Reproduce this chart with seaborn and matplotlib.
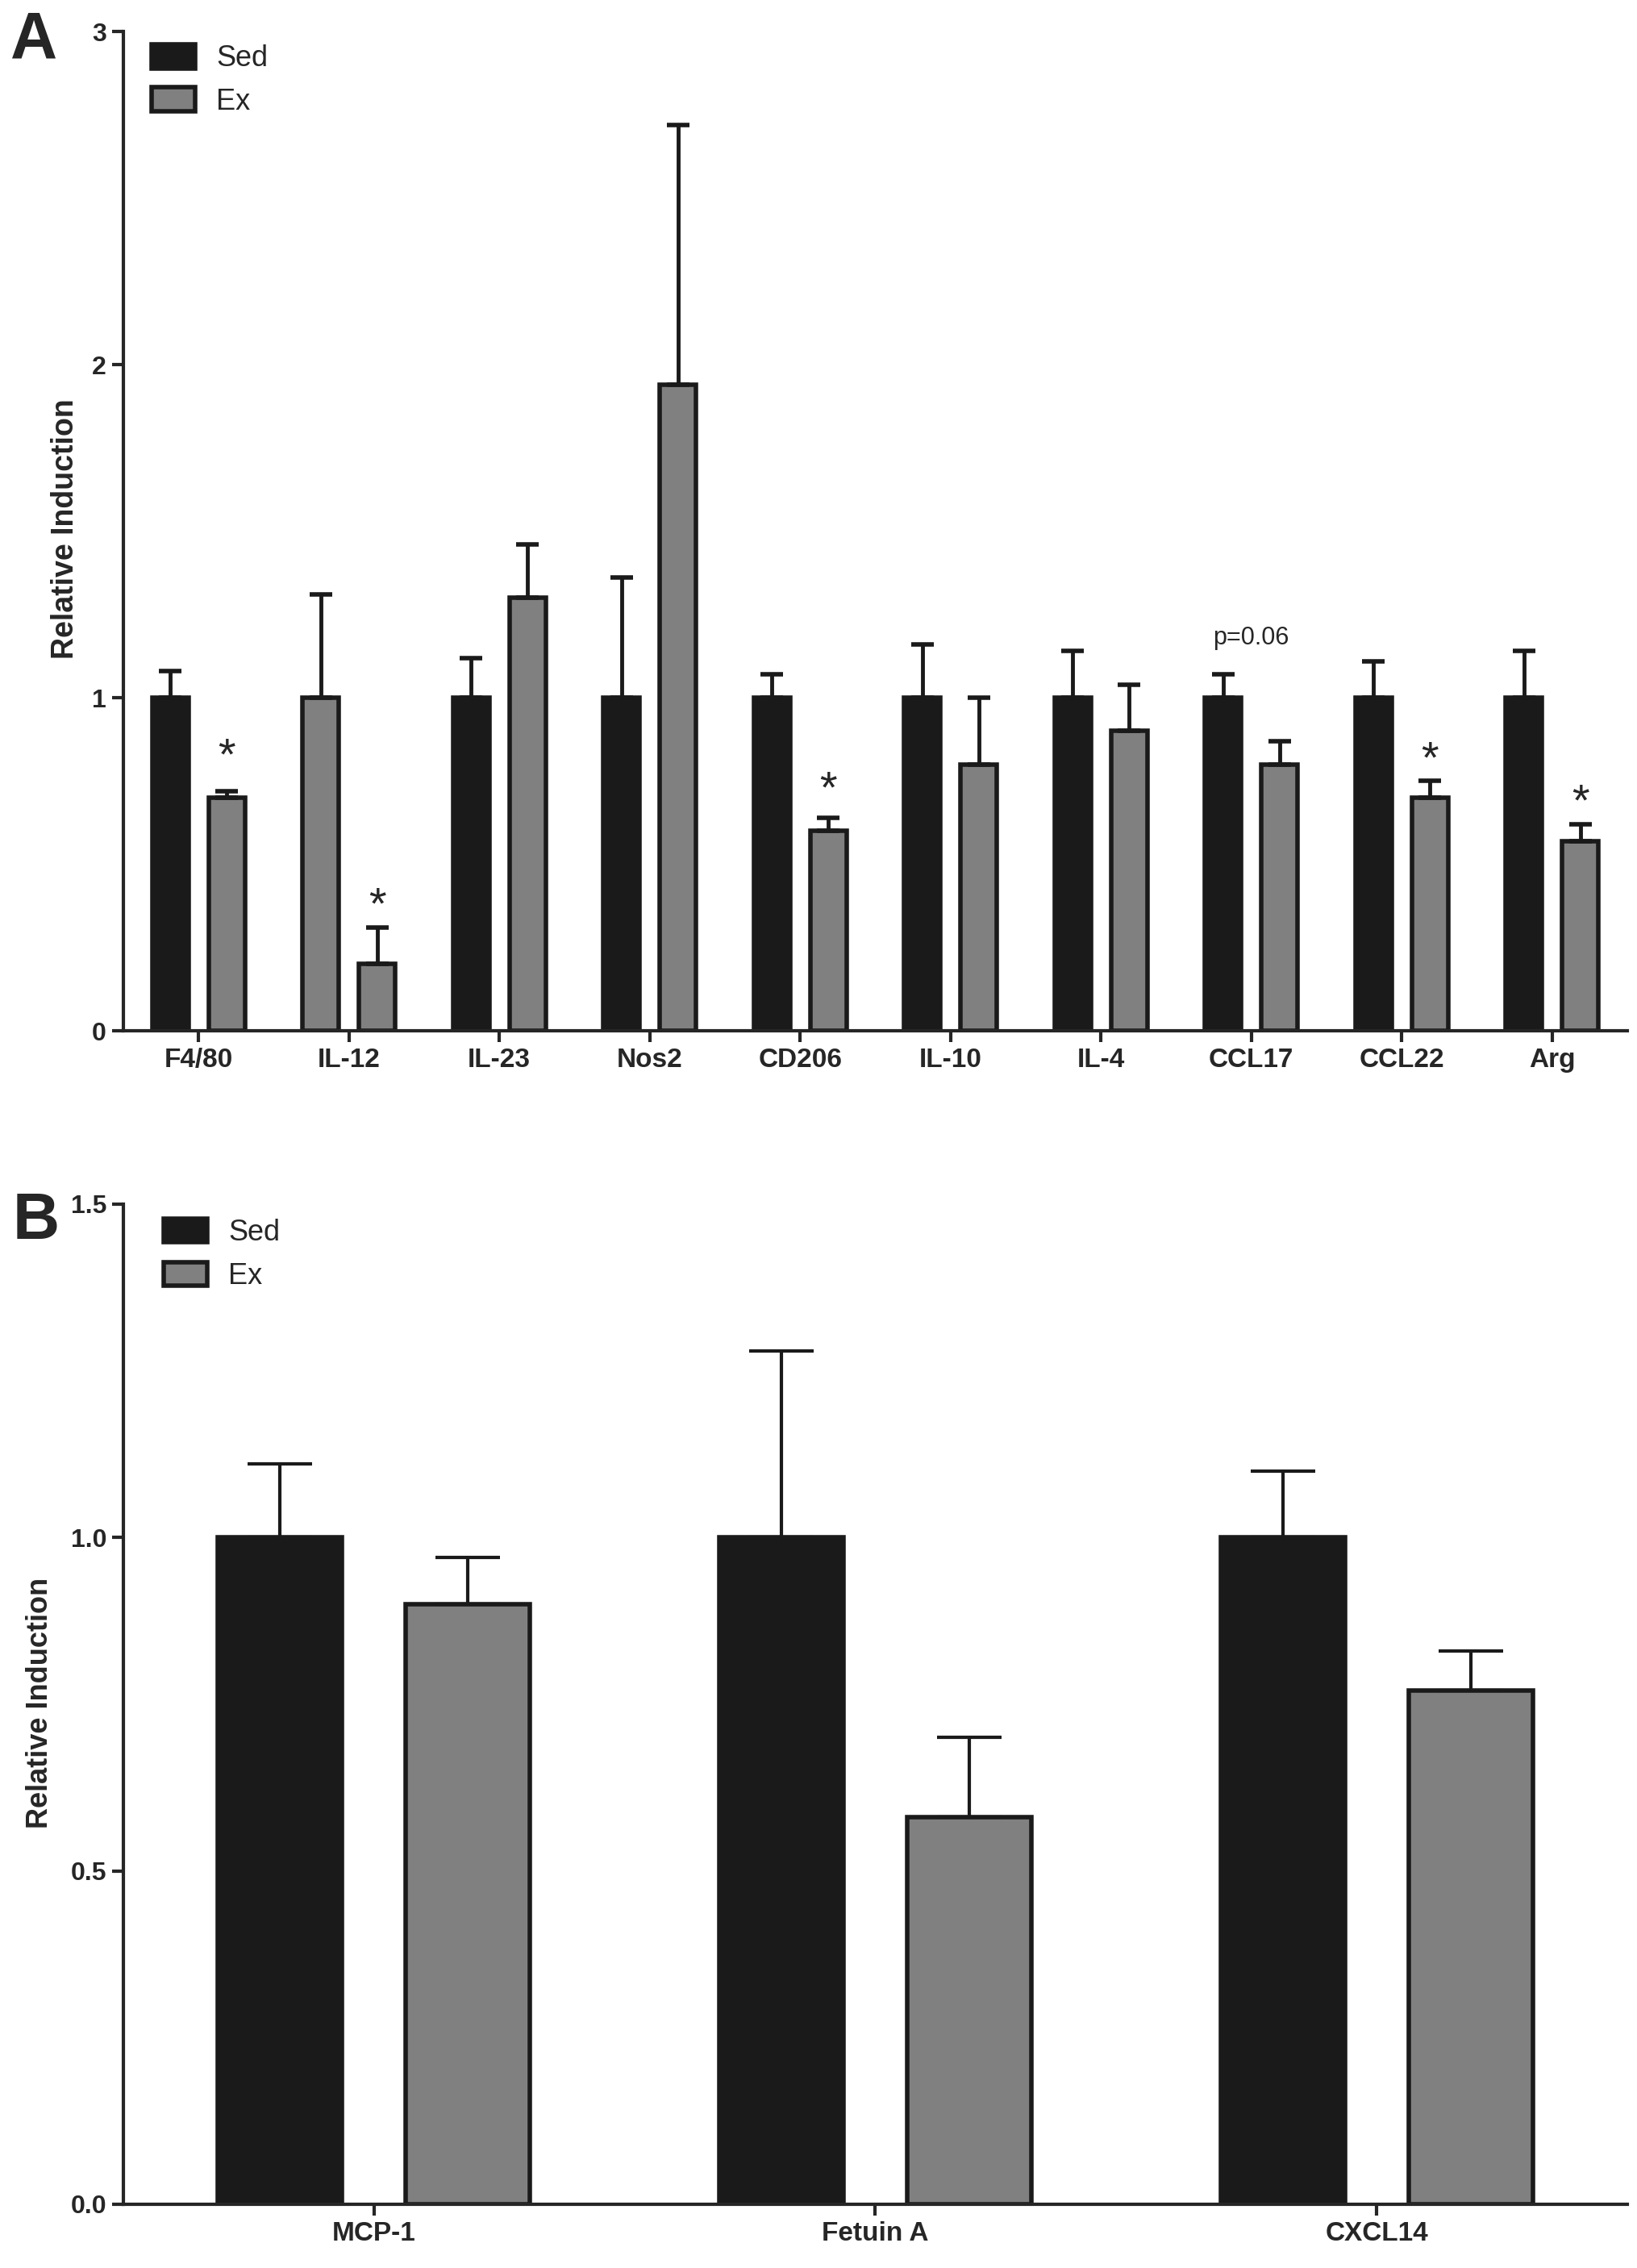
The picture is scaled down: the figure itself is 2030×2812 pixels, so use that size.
import numpy as np
import pandas as pd
import matplotlib
matplotlib.use("Agg")
import matplotlib.pyplot as plt
import matplotlib.transforms as mtrans
from matplotlib.patches import Patch
import seaborn as sns

# panel A data (relative induction, mean and upper SEM)
genes_a = ["F4/80", "IL-12", "IL-23", "Nos2", "CD206", "IL-10", "IL-4", "CCL17", "CCL22", "Arg"]
sed_a = [1.0, 1.0, 1.0, 1.0, 1.0, 1.0, 1.0, 1.0, 1.0, 1.0]
sed_a_sem = [0.08, 0.31, 0.12, 0.36, 0.07, 0.16, 0.14, 0.07, 0.11, 0.14]
ex_a = [0.70, 0.20, 1.30, 1.94, 0.60, 0.80, 0.90, 0.80, 0.70, 0.57]
ex_a_sem = [0.02, 0.11, 0.16, 0.78, 0.04, 0.20, 0.14, 0.07, 0.05, 0.05]
star_genes = ["F4/80", "IL-12", "CD206", "CCL22", "Arg"]
star_y = [0.85, 0.40, 0.75, 0.84, 0.71]
pval_gene = "CCL17"
pval_text = "p=0.06"
pval_y = 1.18

# panel B data
genes_b = ["MCP-1", "Fetuin A", "CXCL14"]
sed_b = [1.0, 1.0, 1.0]
sed_b_sem = [0.11, 0.28, 0.10]
ex_b = [0.90, 0.58, 0.77]
ex_b_sem = [0.07, 0.12, 0.06]

SED = "#1a1a1a"
EX = "#808080"
EDGE = "#1a1a1a"

sns.set_style("ticks")
plt.rcParams["font.family"] = ["Liberation Sans", "DejaVu Sans"]
plt.rcParams["axes.linewidth"] = 3


def draw_panel(ax, genes, sed, sed_sem, ex, ex_sem, gap, capsize, capthick, elw):
    n = len(genes)
    df = pd.DataFrame({"gene": genes + genes,
                       "group": ["Sed"] * n + ["Ex"] * n,
                       "value": sed + ex})
    sns.barplot(data=df, x="gene", y="value", hue="group", hue_order=["Sed", "Ex"],
                palette={"Sed": SED, "Ex": EX}, saturation=1, width=0.75, gap=gap,
                edgecolor=EDGE, linewidth=4, errorbar=None, legend=False, ax=ax)
    for cont, sem in zip(ax.containers, [sed_sem, ex_sem]):
        xs = [b.get_x() + b.get_width() / 2 for b in cont]
        hs = [b.get_height() for b in cont]
        ax.errorbar(xs, hs, yerr=[np.zeros(n), sem], fmt="none", ecolor=EDGE,
                    elinewidth=elw, capsize=capsize, capthick=capthick, zorder=1)
    ax.set_xlim(-0.5, n - 0.5)
    ax.set_xlabel("")
    sns.despine(ax=ax)
    ax.tick_params(axis="both", width=3, length=10, direction="out", pad=5)
    handles = [Patch(facecolor=SED, edgecolor=EDGE, linewidth=4, label="Sed"),
               Patch(facecolor=EX, edgecolor=EDGE, linewidth=4, label="Ex")]
    return handles


fig = plt.figure(figsize=(20.31, 28.12), dpi=100)

# ---- panel A
ax1 = fig.add_axes([0.0753, 0.5455, 0.9183, 0.4406])
h = draw_panel(ax1, genes_a, sed_a, sed_a_sem, ex_a, ex_a_sem,
               gap=0.36, capsize=10, capthick=4, elw=3.5)
# IL-12 Sed bar is drawn grey in the original figure
ax1.containers[0][1].set_facecolor(EX)
ax1.set_ylim(0, 3)
ax1.set_yticks([0, 1, 2, 3])
ax1.set_yticklabels(["0", "1", "2", "3"], fontsize=23, fontweight="bold")
ax1.set_xticks(range(len(genes_a)))
ax1.set_xticklabels(genes_a, fontsize=24, fontweight="bold")
ax1.set_ylabel("Relative Induction", fontsize=27, fontweight="bold", va="center")
ax1.yaxis.set_label_coords(-0.0386, 0.502)
star_tr = mtrans.offset_copy(ax1.transData, fig=fig, y=-12, units="dots")
for g, y in zip(star_genes, star_y):
    i = genes_a.index(g)
    b = ax1.containers[1][i]
    ax1.text(b.get_x() + b.get_width() / 2, y, "*", ha="center", va="center",
             fontsize=40, transform=star_tr)
ax1.text(genes_a.index(pval_gene), pval_y, pval_text, ha="center", va="center", fontsize=22)
ax1.legend(handles=h, loc="upper left", bbox_to_anchor=(0.0188, 0.9875), frameon=False,
           fontsize=26, handlelength=1.5, handleheight=0.9, labelspacing=0.5,
           handletextpad=0.72, borderpad=0, borderaxespad=0)

# ---- panel B
ax2 = fig.add_axes([0.0753, 0.0281, 0.9183, 0.4410])
h = draw_panel(ax2, genes_b, sed_b, sed_b_sem, ex_b, ex_b_sem,
               gap=0.34, capsize=29, capthick=3, elw=3)
ax2.set_ylim(0, 1.5)
ax2.set_yticks([0, 0.5, 1.0, 1.5])
ax2.set_yticklabels(["0.0", "0.5", "1.0", "1.5"], fontsize=23, fontweight="bold")
ax2.set_xticks(range(len(genes_b)))
ax2.set_xticklabels(genes_b, fontsize=24, fontweight="bold")
ax2.set_ylabel("Relative Induction", fontsize=26, fontweight="bold", va="center")
ax2.yaxis.set_label_coords(-0.0552, 0.5016)
ax2.legend(handles=h, loc="upper left", bbox_to_anchor=(0.0268, 0.9855), frameon=False,
           fontsize=26, handlelength=1.5, handleheight=0.85, labelspacing=0.52,
           handletextpad=0.72, borderpad=0, borderaxespad=0)

fig.text(13 / 2031, 1 - 13 / 2812, "A", ha="left", va="top", fontsize=58, fontweight="bold")
fig.text(16 / 2031, 1 - 1477 / 2812, "B", ha="left", va="top", fontsize=58, fontweight="bold")

fig.savefig("out.png", dpi=100)
